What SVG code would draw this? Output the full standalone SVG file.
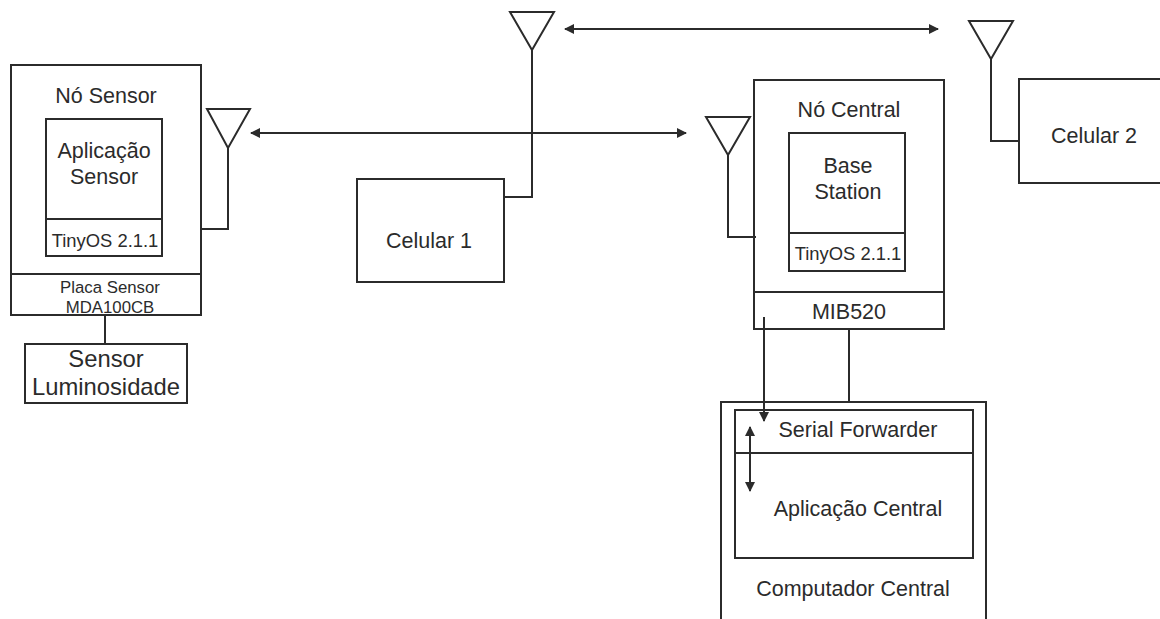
<svg xmlns="http://www.w3.org/2000/svg" width="1160" height="619" viewBox="0 0 1160 619">
<style>
.b{fill:none;stroke:#2b2b2b;stroke-width:2}
.c{fill:none;stroke:#2b2b2b;stroke-width:2}
text{font-family:"Liberation Sans",Arial,sans-serif;fill:#2b2b2b;text-anchor:middle}
.s21{font-size:21.5px}.s18{font-size:18.4px}.s17{font-size:16.8px}.s24{font-size:23.8px}
</style>
<defs>
<marker id="ah" viewBox="0 0 10 10" refX="9" refY="5" markerWidth="10" markerHeight="10" markerUnits="userSpaceOnUse" orient="auto-start-reverse"><path d="M0 0L10 5L0 10Z" fill="#2b2b2b"/></marker>
</defs>
<rect width="1160" height="619" fill="#fff"/>
<g id="connectors">
<path class="c" d="M228 148V229H202"/>
<path class="c" d="M105 315V344"/>
<path class="c" d="M532 50V197H504"/>
<path class="c" d="M991 59V141H1019"/>
<path class="c" d="M728 155V237H756"/>
<path class="c" d="M849 329V402"/>
<path class="c" d="M251 133H686" marker-start="url(#ah)" marker-end="url(#ah)"/>
<path class="c" d="M565 29H938" marker-start="url(#ah)" marker-end="url(#ah)"/>
<path class="c" d="M764 317V421" marker-end="url(#ah)"/>
<path class="c" d="M750 427V491" marker-start="url(#ah)" marker-end="url(#ah)"/>
</g>
<g id="no-sensor">
<rect class="b" x="11" y="65" width="190" height="250"/>
<path class="b" d="M11 274H201"/>
<rect class="b" x="46" y="119" width="116" height="137"/>
<path class="b" d="M46 219H162"/>
<text class="s21" x="106" y="103">Nó Sensor</text>
<text class="s21" x="104" y="158">Aplicação</text>
<text class="s21" x="104" y="184">Sensor</text>
<text class="s18" x="105" y="247">TinyOS 2.1.1</text>
<text class="s17" x="110" y="293">Placa Sensor</text>
<text class="s17" x="110" y="313">MDA100CB</text>
</g>
<g id="antena-sensor"><path class="b" d="M207 109H250L228 148Z"/></g>
<g id="sensor-luminosidade">
<rect class="b" x="25" y="344" width="162" height="59"/>
<text class="s24" x="106" y="367">Sensor</text>
<text class="s24" x="106" y="395">Luminosidade</text>
</g>
<g id="antena-celular1"><path class="b" d="M510 12H554L532 50Z"/></g>
<g id="celular1">
<rect class="b" x="357" y="179" width="147" height="103"/>
<text class="s21" x="429" y="248">Celular 1</text>
</g>
<g id="antena-celular2"><path class="b" d="M969 21H1013L991 59Z"/></g>
<g id="celular2">
<path class="b" d="M1161 79H1019V183H1161"/>
<text class="s21" x="1094" y="143">Celular 2</text>
</g>
<g id="antena-central"><path class="b" d="M706 117H750L728 155Z"/></g>
<g id="no-central">
<rect class="b" x="754" y="80" width="190" height="249"/>
<path class="b" d="M754 292H944"/>
<rect class="b" x="789" y="133" width="116" height="138"/>
<path class="b" d="M789 233H905"/>
<text class="s21" x="849" y="117">Nó Central</text>
<text class="s21" x="848" y="173">Base</text>
<text class="s21" x="848" y="199">Station</text>
<text class="s18" x="848" y="260">TinyOS 2.1.1</text>
<text class="s21" x="849" y="319">MIB520</text>
</g>
<g id="computador-central">
<path class="b" d="M721 619V402H986V619"/>
<rect class="b" x="735" y="410" width="238" height="148"/>
<path class="b" d="M735 453H973"/>
<text class="s21" x="858" y="437">Serial Forwarder</text>
<text class="s21" x="858" y="516">Aplicação Central</text>
<text class="s21" x="853" y="596">Computador Central</text>
</g>
</svg>
